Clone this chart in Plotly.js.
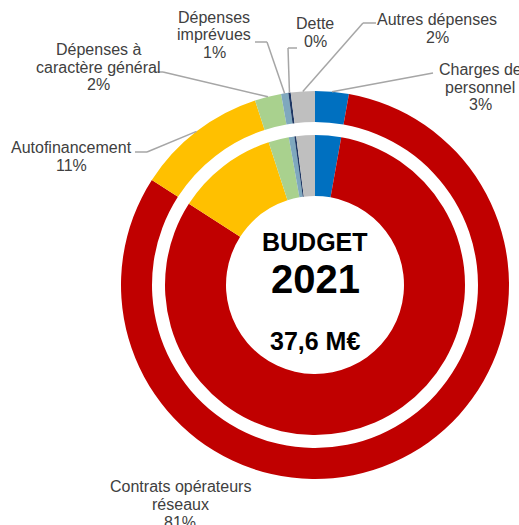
<!DOCTYPE html>
<html><head><meta charset="utf-8">
<script src="https://cdn.plot.ly/plotly-3.0.1.min.js"></script>
<style>html,body{margin:0;padding:0;background:#fff}#chart{width:519px;height:525px}</style>
</head><body><div id="chart"></div>
<script>
// ---- data ----
const labels = ["Charges de personnel","Contrats opérateurs réseaux","Autofinancement","Dépenses à caractère général","Dépenses imprévues","Dette","Autres dépenses"];
const values = [2.8, 81.3, 10.9, 2.2, 0.6, 0.2, 2.0];
const labelLines = [["Charges de","personnel"],["Contrats opérateurs","réseaux"],["Autofinancement"],["Dépenses à","caractère général"],["Dépenses","imprévues"],["Dette"],["Autres dépenses"]];
const centerTitle = ["BUDGET","2021"];
const centerAmount = "37,6 M€";

// ---- styles / layout ----
const colors = ["#0070C0","#C00000","#FFC000","#A9D18E","#7FA8BE","#1F3864","#BFBFBF"];
const W = 519, H = 525;
const cx = 315, cy = 285;
const outerR = 194, outerHole = 163;
const innerR = 150, innerHole = 89;
// label block centers (px) and leader routes (px), index-aligned with labels
const labelPos = [
  {x:480, y:87,  route:[[433,73]]},
  {x:180, y:504, route:null},
  {x:72,  y:156, route:[[147,152],[135,152]]},
  {x:98,  y:67,  route:[[163,72],[154,72]]},
  {x:214, y:35,  route:[[267,42],[255,42]]},
  {x:315, y:32,  route:[[288,48],[297,48]]},
  {x:437, y:28,  route:[[363,23],[376,23]]}
];
const lineGap = 18;
const txtFont = {family:"Liberation Sans, Arial, sans-serif", size:16, color:"#404040"};

const px = x => x / W;
const py = y => 1 - y / H;

function domainFor(r){
  return {x:[px(cx - r), px(cx + r)], y:[py(cy + r), py(cy - r)]};
}

const baseTrace = {
  type:"pie", labels:labels, values:values, sort:false, direction:"clockwise", rotation:0,
  marker:{colors:colors, line:{width:0}}, textinfo:"none", hoverinfo:"label+percent", showlegend:false
};
const outer = Object.assign({}, baseTrace, {domain:domainFor(outerR), hole:outerHole/outerR});
const inner = Object.assign({}, baseTrace, {domain:domainFor(innerR), hole:innerHole/innerR});

const total = values.reduce((a,b)=>a+b,0);
const annotations = [];
const shapes = [];
let cum = 0;
values.forEach((v,i)=>{
  const mid = (cum + v/2) / total * 2 * Math.PI;
  cum += v;
  const lines = labelLines[i].concat([Math.round(v/total*100) + "%"]);
  const pos = labelPos[i];
  const n = lines.length;
  lines.forEach((t,k)=>{
    annotations.push({xref:"paper", yref:"paper", x:px(pos.x), y:py(pos.y + (k-(n-1)/2)*lineGap),
      text:t, showarrow:false, xanchor:"center", yanchor:"middle", font:txtFont});
  });
  if (pos.route){
    let prev = [cx + outerR*Math.sin(mid), cy - outerR*Math.cos(mid)];
    pos.route.forEach(p=>{
      shapes.push({type:"line", xref:"paper", yref:"paper", x0:px(prev[0]), y0:py(prev[1]), x1:px(p[0]), y1:py(p[1]),
        line:{color:"#A6A6A6", width:1.5}});
      prev = p;
    });
  }
});

const boldFont = (s)=>({family:"Liberation Sans, Arial, sans-serif", size:s, color:"#000000"});
annotations.push({xref:"paper", yref:"paper", x:px(cx), y:py(242), text:"<b>"+centerTitle[0]+"</b>", showarrow:false, xanchor:"center", yanchor:"middle", font:boldFont(25)});
annotations.push({xref:"paper", yref:"paper", x:px(cx), y:py(279), text:"<b>"+centerTitle[1]+"</b>", showarrow:false, xanchor:"center", yanchor:"middle", font:boldFont(40)});
annotations.push({xref:"paper", yref:"paper", x:px(cx), y:py(341), text:"<b>"+centerAmount+"</b>", showarrow:false, xanchor:"center", yanchor:"middle", font:boldFont(25)});

const layout = {
  width:W, height:H, margin:{l:0,r:0,t:0,b:0}, paper_bgcolor:"#ffffff", plot_bgcolor:"#ffffff",
  showlegend:false, annotations:annotations, shapes:shapes
};
Plotly.newPlot("chart", [outer, inner], layout, {displayModeBar:false, staticPlot:true});
</script>
</body></html>
